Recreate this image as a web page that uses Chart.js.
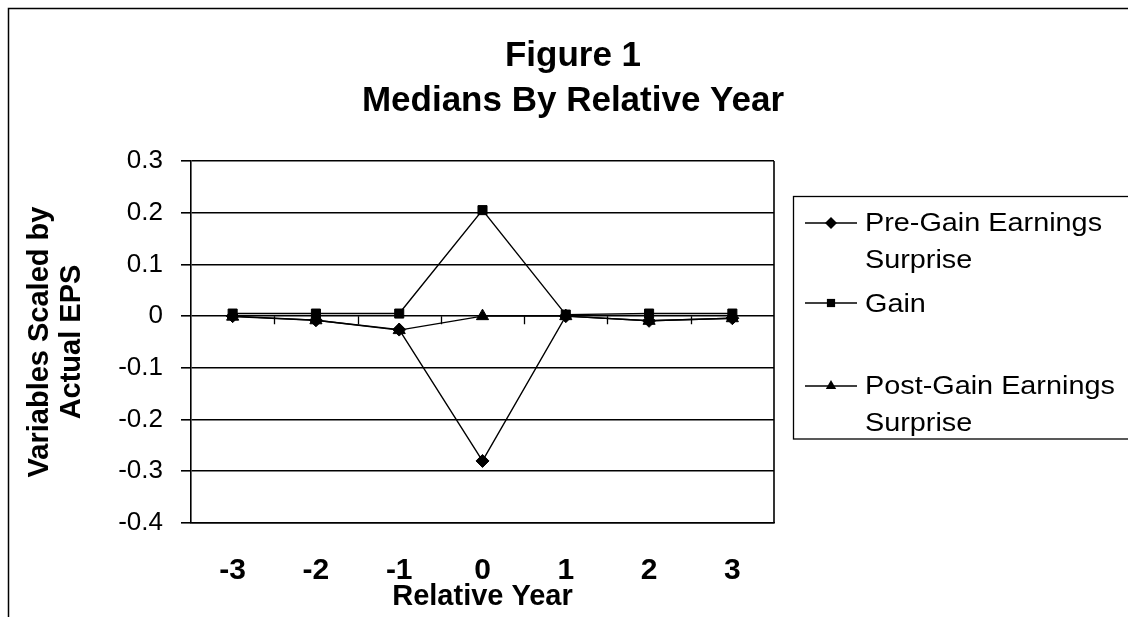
<!DOCTYPE html>
<html><head><meta charset="utf-8">
<script src="https://cdn.jsdelivr.net/npm/chart.js@4.4.1/dist/chart.umd.min.js"></script>
<style>html,body{margin:0;padding:0;background:#fff;}#wrap{width:1128px;height:617px;position:relative;}</style>
</head><body><div id="wrap"><canvas id="c" width="1128" height="617"></canvas></div>
<script>
const categories = ['-3', '-2', '-1', '0', '1', '2', '3'];
const preGain  = [0.000, -0.008, -0.026, -0.280, 0.000, -0.009, -0.004];
const gain     = [0.005,  0.005,  0.005,  0.205, 0.003,  0.005,  0.005];
const postGain = [-0.001, -0.008, -0.027,  0.000, 0.000, -0.009, -0.004];
const seriesLabels = [['Pre-Gain Earnings', 'Surprise'], ['Gain'], ['Post-Gain Earnings', 'Surprise']];
const seriesMarkers = ['rectRot', 'rect', 'triangle'];
const titleLines = ['Figure 1', 'Medians By Relative Year'];
const yTitle = ['Variables Scaled by', 'Actual EPS'];
const xTitle = 'Relative Year';
const yMin = -0.4, yMax = 0.3, yStep = 0.1;

const FONT = '"Liberation Sans", Arial, sans-serif';

function drawMarker(ctx, style, x, y, r) {
  ctx.beginPath();
  if (style === 'rect') {
    const s = r * Math.SQRT1_2;
    ctx.rect(x - s, y - s, 2 * s, 2 * s);
  } else if (style === 'rectRot') {
    ctx.moveTo(x, y - r); ctx.lineTo(x + r, y); ctx.lineTo(x, y + r); ctx.lineTo(x - r, y); ctx.closePath();
  } else {
    ctx.moveTo(x, y - r); ctx.lineTo(x + r * 0.866, y + r * 0.5); ctx.lineTo(x - r * 0.866, y + r * 0.5); ctx.closePath();
  }
  ctx.fill();
}

function stretchedText(ctx, text, x, y, sx) {
  ctx.save();
  ctx.translate(x, y);
  ctx.scale(sx, 1);
  ctx.fillText(text, 0, 0);
  ctx.restore();
}

const decor = {
  id: 'decor',
  beforeDraw(chart) {
    const ctx = chart.ctx;
    ctx.save();
    ctx.fillStyle = '#fff';
    ctx.fillRect(0, 0, chart.width, chart.height);
    ctx.restore();
  },
  afterDatasetsDraw(chart) {
    const ctx = chart.ctx;
    const {left, right, top, bottom} = chart.chartArea;
    const ys = chart.scales.y;
    ctx.save();
    ctx.strokeStyle = '#000';
    ctx.lineWidth = 1.6;
    ctx.beginPath(); ctx.moveTo(right, top); ctx.lineTo(right, bottom); ctx.stroke();
    const y0 = ys.getPixelForValue(0);
    const w = (right - left) / categories.length;
    ctx.lineWidth = 1.3;
    ctx.beginPath();
    for (let k = 1; k < categories.length; k++) {
      const x = Math.round(left + k * w) + 0.5;
      ctx.moveTo(x, y0); ctx.lineTo(x, y0 + 8);
    }
    ctx.stroke();
    ctx.restore();
  },
  afterDraw(chart) {
    const ctx = chart.ctx;
    ctx.save();
    ctx.strokeStyle = '#000';
    ctx.lineWidth = 1.5;
    ctx.strokeRect(8.5, 8.5, 1300, 800);
    ctx.fillStyle = '#000';
    ctx.textAlign = 'center';
    ctx.textBaseline = 'alphabetic';
    ctx.font = 'bold 35px ' + FONT;
    ctx.fillText(titleLines[0], 573, 66);
    ctx.fillText(titleLines[1], 573, 111);
    // legend
    ctx.lineWidth = 1.3;
    ctx.strokeRect(793.5, 196.5, 500, 242.5);
    ctx.font = '25.5px ' + FONT;
    ctx.textAlign = 'left';
    const lineY = [223, 303, 386];
    const baselines = [[231, 268], [312], [394, 431]];
    chart.data.datasets.forEach((ds, i) => {
      const ly = lineY[i];
      ctx.beginPath(); ctx.moveTo(805, ly); ctx.lineTo(857, ly); ctx.stroke();
      ctx.fillStyle = '#000';
      drawMarker(ctx, seriesMarkers[i], 831, ly, i === 1 ? 5.8 : 6);
      ds.label.forEach((t, j) => stretchedText(ctx, t, 865, baselines[i][j], 1.13));
    });
    ctx.restore();
  }
};

const mk = (label, data, style, order) => ({
  label, data, order,
  borderColor: '#000', backgroundColor: '#000', borderWidth: 1.4,
  pointStyle: style, pointRadius: style === 'triangle' ? 7 : (style === 'rect' ? 6.4 : 6.5),
  pointBackgroundColor: '#000', pointBorderColor: '#000', pointBorderWidth: 1,
  tension: 0, fill: false
});

new Chart(document.getElementById('c'), {
  type: 'line',
  data: {
    labels: categories,
    datasets: [
      mk(seriesLabels[0], preGain, seriesMarkers[0], 3),
      mk(seriesLabels[1], gain, seriesMarkers[1], 2),
      mk(seriesLabels[2], postGain, seriesMarkers[2], 1)
    ]
  },
  options: {
    responsive: false, animation: false, devicePixelRatio: 1,
    layout: {padding: {left: 8, top: 161, right: 354, bottom: 0}},
    plugins: {legend: {display: false}, title: {display: false}, tooltip: {enabled: false}},
    scales: {
      x: {
        type: 'category', offset: true,
        grid: {display: false, drawTicks: false},
        border: {display: true, color: '#000', width: 1.6},
        ticks: {color: '#000', padding: 30, font: {family: FONT, size: 30, weight: 'bold', lineHeight: 1.2}},
        title: {display: true, text: xTitle, color: '#000', padding: {top: 0, bottom: 3},
                font: {family: FONT, size: 29, weight: 'bold', lineHeight: 1.2}},
        afterFit(s) { s.height = 94; }
      },
      y: {
        min: yMin, max: yMax,
        grid: {color: '#000', lineWidth: 1.6, tickLength: 10, drawTicks: true},
        border: {display: true, color: '#000', width: 1.6},
        ticks: {stepSize: yStep, color: '#000', padding: 18, font: {family: FONT, size: 26},
                callback: v => { const r = Math.round(v * 10) / 10; return r === 0 ? '0' : String(r); }},
        title: {display: true, text: yTitle, color: '#000', padding: {top: 16, bottom: 0},
                font: {family: FONT, size: 29, weight: 'bold', lineHeight: 1.1}},
        afterFit(s) { s.width = 183; }
      }
    }
  },
  plugins: [decor]
});
</script></body></html>
